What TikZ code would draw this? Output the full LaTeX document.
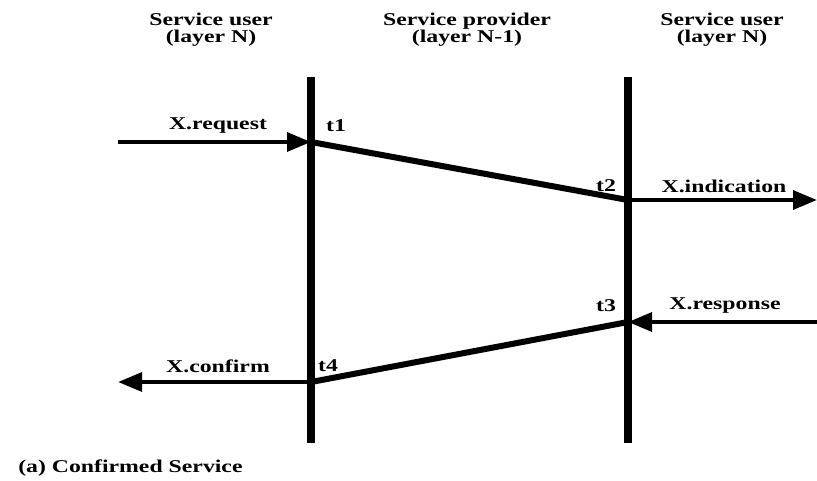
\documentclass[tikz,border=0pt]{standalone}
\usepackage{fontspec}
\setmainfont{Liberation Serif}[FakeStretch=1.32]
\usetikzlibrary{arrows.meta}
\begin{document}
\begin{tikzpicture}[x=0.75pt,y=-0.75pt,
  lbl/.style={font=\bfseries\fontsize{13.5}{15}\selectfont, inner sep=0pt},
  hdr/.style={lbl, align=center, font=\bfseries\fontsize{13.5}{12.75}\selectfont},
  timeline/.style={line width=5.5pt},
  prim/.style={line width=3.2pt, -{Triangle[length=18pt,width=14pt]}},
  diag/.style={line width=4.5pt}]
\useasboundingbox (0,0) rectangle (817,480);
% timelines
\coordinate (L1top) at (311,77);
\coordinate (L1bot) at (311,443);
\coordinate (L2top) at (628,77);
\coordinate (L2bot) at (628,443);
\draw[timeline] (L1top) -- (L1bot);
\draw[timeline] (L2top) -- (L2bot);
% events
\coordinate (t1) at (311,142);
\coordinate (t2) at (628,200);
\coordinate (t3) at (628,322);
\coordinate (t4) at (311,382);
\coordinate (reqstart) at (118,142);
\coordinate (indend) at (817,200);
\coordinate (respstart) at (817,322);
\coordinate (confend) at (118,382);
% primitives
\draw[prim] (reqstart) -- (t1);
\draw[diag] (t1) -- (t2);
\draw[prim] (t2) -- (indend);
\draw[prim] (respstart) -- (t3);
\draw[diag] (t3) -- (t4);
\draw[prim] (t4) -- (confend);
% labels
\node[lbl] (lreq) at (218,126) {X.request};
\node[lbl] (lind) at (724,186) {X.indication};
\node[lbl] (lresp) at (725,306) {X.response};
\node[lbl] (lconf) at (218,366) {X.confirm};
\node[lbl] (lt1) at (336,126) {t1};
\node[lbl] (lt2) at (606,186) {t2};
\node[lbl] (lt3) at (606,306) {t3};
\node[lbl] (lt4) at (328,366) {t4};
% headers
\node[hdr] (h1) at (211,30) {Service user\\(layer N)};
\node[hdr] (h2) at (467,30) {Service provider\\(layer N-1)};
\node[hdr] (h3) at (722,30) {Service user\\(layer N)};
\node[lbl, anchor=west] (cap) at (18,468) {(a) Confirmed Service};
\end{tikzpicture}
\end{document}
